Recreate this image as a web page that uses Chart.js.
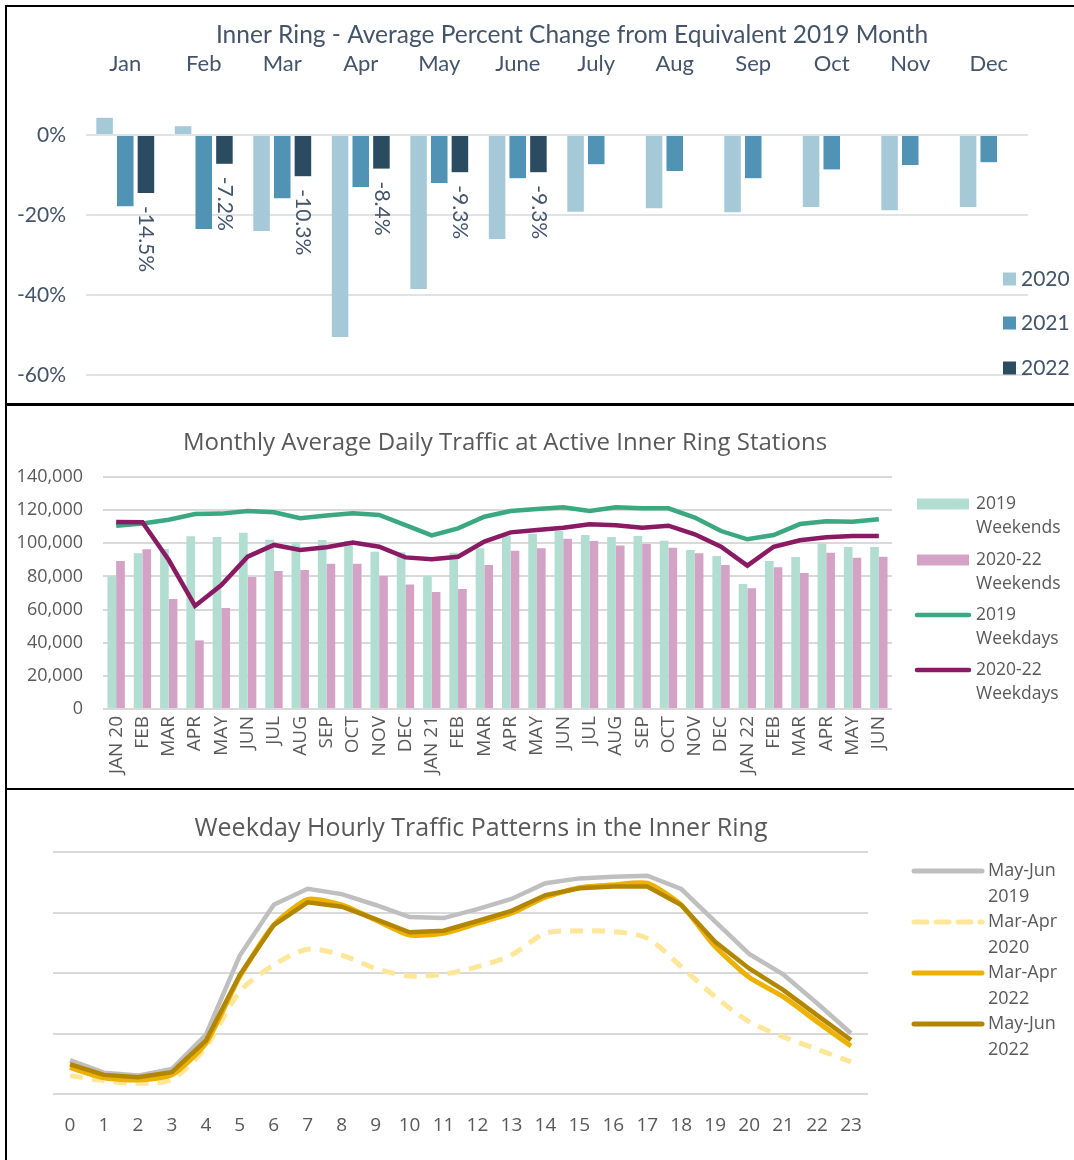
<!DOCTYPE html>
<html>
<head>
<meta charset="utf-8">
<script src="https://cdn.jsdelivr.net/npm/chart.js@4.4.1/dist/chart.umd.min.js"></script>
<style>
  html, body { margin: 0; padding: 0; background: #fff; }
  body { width: 1074px; height: 1160px; position: relative; overflow: hidden; }
  canvas { position: absolute; left: 0; }
  .frame { position: absolute; left: 5px; width: 1090px; border: 2px solid #000; box-sizing: border-box; pointer-events: none; }
</style>
</head>
<body>
<canvas id="pctChart" width="1074" height="404" style="top:0px"></canvas>
<canvas id="trafficChart" width="1074" height="385" style="top:404px"></canvas>
<canvas id="hourlyChart" width="1074" height="371" style="top:789px"></canvas>
<div class="frame" style="top:5px;height:401px"></div>
<div class="frame" style="top:403px;height:387px"></div>
<div class="frame" style="top:788px;height:400px"></div>
<script>
//! chart 1 - percent change from 2019
const monthNames = ['Jan','Feb','Mar','Apr','May','June','July','Aug','Sep','Oct','Nov','Dec'];
const pct2020 = [4.3, 2.2, -24.0, -50.5, -38.5, -26.0, -19.2, -18.3, -19.3, -18.0, -18.8, -18.0];
const pct2021 = [-17.8, -23.5, -15.8, -13.0, -12.0, -10.8, -7.3, -9.0, -10.8, -8.6, -7.5, -6.8];
const pct2022 = [-14.5, -7.2, -10.3, -8.4, -9.3, -9.3, null, null, null, null, null, null];
const pctTicks = [0, -20, -40, -60];

//! chart 2 - monthly average daily traffic
const trafficMonths = ['JAN 20','FEB','MAR','APR','MAY','JUN','JUL','AUG','SEP','OCT','NOV','DEC',
  'JAN 21','FEB','MAR','APR','MAY','JUN','JUL','AUG','SEP','OCT','NOV','DEC',
  'JAN 22','FEB','MAR','APR','MAY','JUN'];
const weekends2019 = [80000, 94000, 96600, 104200, 103800, 106400, 102200, 100800, 102000, 101400, 94900, 94600,
  80300, 94300, 97000, 104600, 105800, 107400, 105000, 103800, 104400, 101600, 96000, 92300,
  75400, 89300, 91700, 99800, 97800, 97800];
const weekends2022 = [89300, 96400, 66400, 41400, 61000, 79700, 83300, 83900, 87700, 87700, 80300, 75200,
  70600, 72400, 86900, 95500, 97000, 102800, 101400, 98600, 99600, 97300, 94000, 86900,
  72800, 85500, 82100, 94300, 91300, 91900];
const weekdays2019 = [110600, 112000, 114200, 117700, 117900, 119500, 118700, 115100, 116700, 118100, 117100, 111000,
  104800, 109000, 116000, 119500, 120700, 121700, 119500, 121700, 121100, 121100, 115500, 107400,
  102400, 105000, 111600, 113300, 113000, 114500];
const weekdays2022 = [112900, 112700, 89900, 62200, 74800, 91900, 99000, 96000, 97600, 100400, 97900, 91500,
  90300, 91900, 101000, 106600, 108000, 109400, 111500, 110900, 109400, 110600, 105400, 97900,
  86500, 97900, 101800, 103600, 104400, 104400];

//! chart 3 - weekday hourly pattern (no y labels in the original, relative units)
const hours = ['0','1','2','3','4','5','6','7','8','9','10','11','12','13','14','15','16','17','18','19','20','21','22','23'];
const mayJun2019 = [14.0, 8.8, 7.6, 10.3, 24.4, 57.2, 78.2, 84.8, 82.6, 78.1, 73.1, 72.7, 76.4, 80.6, 87.1, 89.1, 89.8, 90.2, 84.7, 71.2, 57.9, 49.5, 37.5, 25.1];
const marApr2020 = [7.6, 5.5, 4.4, 6.1, 19.5, 42.3, 53.3, 59.8, 57.4, 51.9, 48.8, 49.5, 52.6, 57.4, 66.4, 67.4, 67.1, 64.3, 52.6, 40.2, 29.9, 23.7, 18.5, 13.3];
const marApr2022 = [10.9, 6.7, 5.8, 7.9, 20.9, 48.5, 69.8, 80.4, 78.1, 71.9, 65.7, 66.4, 70.5, 74.7, 81.3, 85.2, 86.4, 87.1, 78.1, 60.9, 48.2, 40.2, 29.9, 19.8];
const mayJun2022 = [12.3, 7.9, 6.9, 9.0, 22.0, 49.2, 69.8, 79.2, 77.4, 72.3, 66.8, 67.5, 71.5, 75.7, 82.2, 85.0, 85.7, 85.7, 78.1, 62.9, 51.9, 43.0, 32.6, 22.3];

const SLATE = '#44546A';
const GREY_TXT = '#595959';
const GRID = '#D9D9D9';
const SANS = 'Open Sans';

// fixed axis size, and no extra label padding so the plot area lands where excel put it
function fixSize(w, h) {
  return s => {
    if (w != null) s.width = w;
    if (h != null) s.height = h;
    s.paddingTop = 0; s.paddingBottom = 0; s.paddingLeft = 0; s.paddingRight = 0;
  };
}

//! plugin: title drawn at a given spot
const panelTitle = {
  id: 'panelTitle',
  afterDraw(chart, args, o) {
    const ctx = chart.ctx;
    ctx.save();
    ctx.font = o.font;
    ctx.fillStyle = o.color;
    ctx.textAlign = 'center';
    ctx.textBaseline = 'middle';
    ctx.fillText(o.text, o.x, o.y);
    ctx.restore();
  }
};

//! plugin: side legend (lets the legend sit where excel put it)
const sideLegend = {
  id: 'sideLegend',
  afterDraw(chart, args, o) {
    const ctx = chart.ctx;
    ctx.save();
    ctx.font = o.font;
    ctx.textAlign = 'left';
    ctx.textBaseline = 'middle';
    o.items.forEach(it => {
      const ds = chart.data.datasets[it.dataset];
      if (it.kind === 'box') {
        ctx.fillStyle = ds.backgroundColor;
        ctx.fillRect(it.x, it.y - it.h / 2, it.w, it.h);
      } else {
        ctx.strokeStyle = ds.borderColor;
        ctx.lineWidth = it.h;
        ctx.lineCap = 'round';
        ctx.setLineDash(ds.borderDash ? ds.borderDash : []);
        ctx.beginPath();
        ctx.moveTo(it.x, it.y);
        ctx.lineTo(it.x + it.w, it.y);
        ctx.stroke();
        ctx.setLineDash([]);
      }
      ctx.fillStyle = o.color;
      ds.label.split('\n').forEach((line, k) => {
        ctx.fillText(line, it.x + it.w + o.gap, it.y + k * o.lineStep);
      });
    });
    ctx.restore();
  }
};

//! plugin: rotated value labels under the bars
const barValueLabels = {
  id: 'barValueLabels',
  afterDatasetsDraw(chart, args, o) {
    const ctx = chart.ctx;
    const meta = chart.getDatasetMeta(o.datasetIndex);
    const vals = chart.data.datasets[o.datasetIndex].data;
    ctx.save();
    ctx.font = o.font;
    ctx.fillStyle = o.color;
    ctx.textAlign = 'left';
    ctx.textBaseline = 'middle';
    meta.data.forEach((bar, i) => {
      if (vals[i] == null) return;
      ctx.save();
      ctx.translate(bar.x, Math.max(bar.y, bar.base) + o.offset);
      ctx.rotate(Math.PI / 2);
      ctx.fillText(vals[i].toFixed(1) + '%', 0, 0);
      ctx.restore();
    });
    ctx.restore();
  }
};

//! CHART 1
new Chart(document.getElementById('pctChart'), {
  type: 'bar',
  data: {
    labels: monthNames,
    datasets: [
      { label: '2020', data: pct2020, backgroundColor: '#A6C9D8' },
      { label: '2021', data: pct2021, backgroundColor: '#5093B5' },
      { label: '2022', data: pct2022, backgroundColor: '#2B4C60' }
    ]
  },
  options: {
    responsive: false,
    animation: false,
    layout: { padding: { top: 38, right: 46, bottom: 29, left: 0 } },
    datasets: { bar: { categoryPercentage: 0.79, barPercentage: 0.8 } },
    scales: {
      x: {
        position: 'top',
        grid: { display: false, drawTicks: false },
        border: { display: false },
        ticks: { font: { family: 'Lato', size: 22 }, color: SLATE, padding: -2, maxRotation: 0 },
        afterFit: fixSize(null, 37)
      },
      y: {
        min: -60,
        max: 15,
        grid: { color: '#DFE2E6', lineWidth: 2, drawTicks: false },
        border: { display: false },
        ticks: { stepSize: 20, padding: 20, font: { family: 'Lato', size: 21 }, color: SLATE, callback: v => v + '%' },
        afterBuildTicks: s => { s.ticks = pctTicks.map(v => ({ value: v })); },
        afterFit: fixSize(86, null)
      }
    },
    plugins: {
      legend: { display: false },
      tooltip: { enabled: false },
      panelTitle: { text: 'Inner Ring - Average Percent Change from Equivalent 2019 Month', x: 572, y: 35, font: '24.5px Lato', color: SLATE },
      barValueLabels: { datasetIndex: 2, offset: 13, font: '21px Lato', color: SLATE },
      sideLegend: {
        font: '21px Lato', color: SLATE, gap: 5, lineStep: 0,
        items: [
          { dataset: 0, kind: 'box', x: 1003, y: 279, w: 13, h: 13 },
          { dataset: 1, kind: 'box', x: 1003, y: 323, w: 13, h: 13 },
          { dataset: 2, kind: 'box', x: 1003, y: 368, w: 13, h: 13 }
        ]
      }
    }
  },
  plugins: [panelTitle, barValueLabels, sideLegend]
});

//! CHART 2
new Chart(document.getElementById('trafficChart'), {
  type: 'bar',
  data: {
    labels: trafficMonths,
    datasets: [
      { label: '2019\nWeekends', data: weekends2019, backgroundColor: '#B1DED0', order: 3 },
      { label: '2020-22\nWeekends', data: weekends2022, backgroundColor: '#D4A2C5', order: 3 },
      { type: 'line', label: '2019\nWeekdays', data: weekdays2019, borderColor: '#3AA981', borderWidth: 4.5, pointRadius: 0, order: 2 },
      { type: 'line', label: '2020-22\nWeekdays', data: weekdays2022, borderColor: '#891A63', borderWidth: 4.5, pointRadius: 0, order: 1 }
    ]
  },
  options: {
    responsive: false,
    animation: false,
    layout: { padding: { top: 73, right: 182, bottom: 0, left: 0 } },
    datasets: { bar: { categoryPercentage: 0.66, barPercentage: 1.0 } },
    scales: {
      x: {
        grid: { display: false, drawTicks: false },
        border: { display: false },
        ticks: { font: { family: SANS, size: 19 }, color: GREY_TXT, padding: 7, minRotation: 90, maxRotation: 90, autoSkip: false },
        afterFit: fixSize(null, 80)
      },
      y: {
        min: 0,
        max: 140000,
        grid: { color: GRID, lineWidth: 2, drawTicks: false },
        border: { display: false },
        ticks: { stepSize: 20000, padding: 20, font: { family: SANS, size: 18 }, color: GREY_TXT, callback: v => v.toLocaleString('en-US') },
        afterFit: fixSize(103, null)
      }
    },
    plugins: {
      legend: { display: false },
      tooltip: { enabled: false },
      panelTitle: { text: 'Monthly Average Daily Traffic at Active Inner Ring Stations', x: 505, y: 39, font: '24px "Open Sans"', color: GREY_TXT },
      sideLegend: {
        font: '17.5px "Open Sans"', color: GREY_TXT, gap: 7, lineStep: 24.5,
        items: [
          { dataset: 0, kind: 'box', x: 917, y: 100, w: 52, h: 11 },
          { dataset: 1, kind: 'box', x: 917, y: 156, w: 52, h: 11 },
          { dataset: 2, kind: 'line', x: 917, y: 211, w: 52, h: 4.5 },
          { dataset: 3, kind: 'line', x: 917, y: 266, w: 52, h: 4.5 }
        ]
      }
    }
  },
  plugins: [panelTitle, sideLegend]
});

//! CHART 3
new Chart(document.getElementById('hourlyChart'), {
  type: 'line',
  data: {
    labels: hours,
    datasets: [
      { label: 'May-Jun\n2019', data: mayJun2019, borderColor: '#BFBFBF', borderWidth: 4.5, pointRadius: 0, tension: 0, order: 4 },
      { label: 'Mar-Apr\n2020', data: marApr2020, borderColor: '#FFE699', borderWidth: 5, borderDash: [13, 9], pointRadius: 0, tension: 0.3, order: 3 },
      { label: 'Mar-Apr\n2022', data: marApr2022, borderColor: '#EDB100', borderWidth: 5, pointRadius: 0, tension: 0.2, order: 2 },
      { label: 'May-Jun\n2022', data: mayJun2022, borderColor: '#B38600', borderWidth: 4.5, pointRadius: 0, tension: 0, order: 1 }
    ]
  },
  options: {
    responsive: false,
    animation: false,
    layout: { padding: { top: 63, right: 206, bottom: 0, left: 0 } },
    scales: {
      x: {
        offset: true,
        grid: { display: false, drawTicks: false },
        border: { display: false },
        ticks: { font: { family: SANS, size: 19 }, color: GREY_TXT, padding: 20, maxRotation: 0, autoSkip: false },
        afterFit: fixSize(null, 66)
      },
      y: {
        min: 0,
        max: 100,
        grid: { color: GRID, lineWidth: 2, drawTicks: false },
        border: { display: false },
        ticks: { stepSize: 25, display: false },
        afterFit: fixSize(53, null)
      }
    },
    plugins: {
      legend: { display: false },
      tooltip: { enabled: false },
      panelTitle: { text: 'Weekday Hourly Traffic Patterns in the Inner Ring', x: 481, y: 40, font: '25px "Open Sans"', color: GREY_TXT },
      sideLegend: {
        font: '18px "Open Sans"', color: GREY_TXT, gap: 6, lineStep: 26,
        items: [
          { dataset: 0, kind: 'line', x: 914, y: 82, w: 68, h: 5 },
          { dataset: 1, kind: 'line', x: 914, y: 133, w: 68, h: 5 },
          { dataset: 2, kind: 'line', x: 914, y: 184, w: 68, h: 5 },
          { dataset: 3, kind: 'line', x: 914, y: 235, w: 68, h: 5 }
        ]
      }
    }
  },
  plugins: [panelTitle, sideLegend]
});
</script>
</body>
</html>
